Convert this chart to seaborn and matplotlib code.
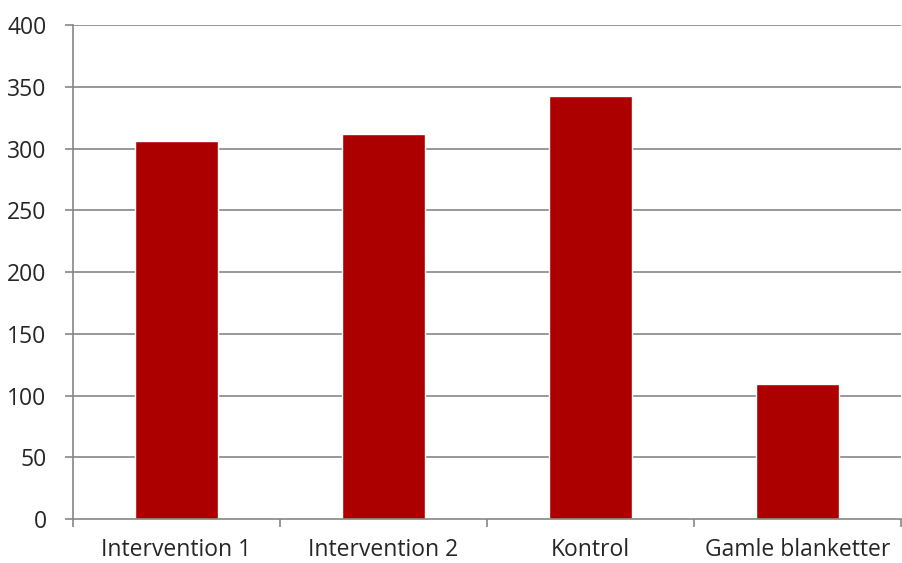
import matplotlib
matplotlib.use("Agg")
import matplotlib.pyplot as plt
import seaborn as sns
import pandas as pd

categories = ["Intervention 1", "Intervention 2", "Kontrol", "Gamle blanketter"]
values = [306, 312, 343, 109]
y_ticks = [0, 50, 100, 150, 200, 250, 300, 350, 400]

sns.set_style("white")
plt.rcParams['font.family'] = ['Open Sans', 'DejaVu Sans']

df = pd.DataFrame({"category": categories, "value": values})

fig = plt.figure(figsize=(9.02, 5.63), dpi=100)
ax = fig.add_axes([73 / 902, 1 - 519 / 563, 1 - 73 / 902 - 0.001, (519 - 25.3) / 563])

# gridlines behind the bars
for t in y_ticks[1:]:
    ax.axhline(t, color="#868686", linewidth=1.2, zorder=0)

sns.barplot(data=df, x="category", y="value", color="#AC0000", width=0.4,
            saturation=1, ax=ax, zorder=2)

ax.set_ylim(0, 400)
ax.set_xlim(-0.5, 3.5)
ax.set_yticks(y_ticks)
ax.set_xlabel("")
ax.set_ylabel("")

for s in ["top", "right"]:
    ax.spines[s].set_visible(False)
for s in ["left", "bottom"]:
    ax.spines[s].set_color("#868686")
    ax.spines[s].set_linewidth(1.2)

# category boundary ticks on x, labels at centres
ax.set_xticks([-0.5, 0.5, 1.5, 2.5, 3.5], minor=False)
ax.set_xticklabels([])
ax.set_xticks([0, 1, 2, 3], minor=True)
ax.set_xticklabels(categories, minor=True, fontsize=16.5)
ax.tick_params(axis="x", which="major", length=6, width=1.2, color="#868686", direction="out")
ax.tick_params(axis="x", which="minor", length=0, pad=13.5)
ax.tick_params(axis="y", length=6, width=1.2, color="#868686", direction="out", labelsize=16.5, pad=13)
ax.tick_params(bottom=True, left=True)
ax.tick_params(axis="x", which="minor", bottom=False)

fig.savefig("out.png", dpi=100)
